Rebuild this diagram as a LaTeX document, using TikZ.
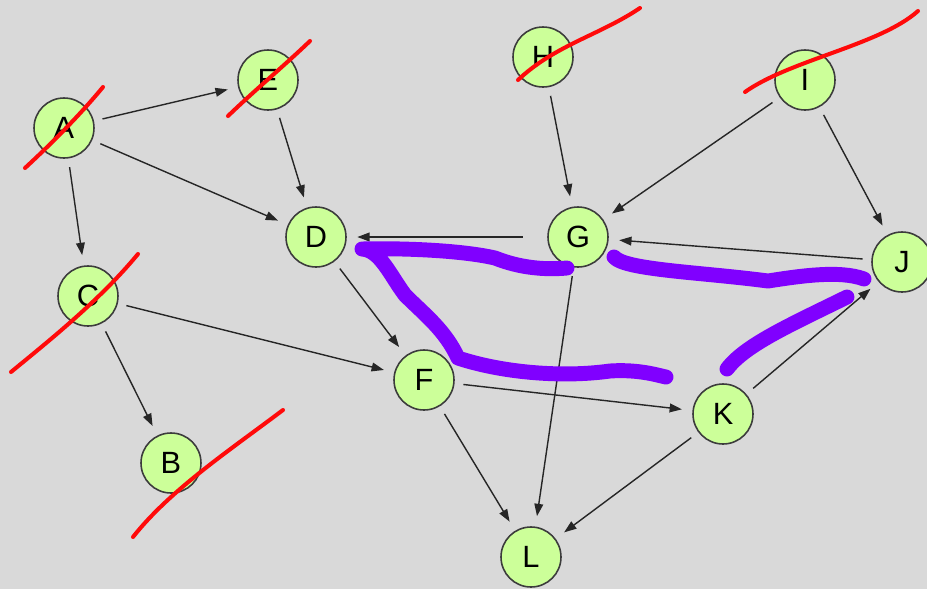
\documentclass[tikz,border=0pt]{standalone}
\usepackage{fontspec}
\setmainfont{Liberation Sans}
\usetikzlibrary{arrows.meta}
\definecolor{bg}{RGB}{217,217,217}
\definecolor{nodefill}{RGB}{204,255,153}
\definecolor{nodeline}{RGB}{60,60,60}
\definecolor{strike}{RGB}{255,10,10}
\definecolor{marker}{RGB}{128,0,255}
\begin{document}
\begin{tikzpicture}[x=0.02cm,y=-0.02cm,
  vertex/.style={circle,draw=nodeline,line width=0.9pt,fill=nodefill,
    minimum size=1.2cm,inner sep=0pt,font=\fontsize{17.5}{20}\selectfont},
  arr/.style={-{Triangle[length=7pt,width=5pt]},line width=0.8pt,black!85,
    shorten <=5pt,shorten >=6pt},
  cross/.style={strike,line width=2.3pt,line cap=round},
  hilite/.style={marker,line width=8.5pt,line cap=round,line join=round}]
\fill[bg] (0,0) rectangle (927,589);
\useasboundingbox (0,0) rectangle (927,589);

% nodes
\node[vertex] (A) at (64,128) {A};
\node[vertex] (E) at (268,80) {E};
\node[vertex] (H) at (543,57) {H};
\node[vertex] (I) at (805,80) {I};
\node[vertex] (D) at (316,237) {D};
\node[vertex] (G) at (578,237) {G};
\node[vertex] (J) at (902,262) {J};
\node[vertex] (C) at (88,296) {C};
\node[vertex] (F) at (424,380) {F};
\node[vertex] (K) at (723,414) {K};
\node[vertex] (B) at (171,463) {B};
\node[vertex] (L) at (531,557) {L};

% directed edges
\draw[arr] (A) -- (E);
\draw[arr] (A) -- (D);
\draw[arr] (A) -- (C);
\draw[arr] (E) -- (D);
\draw[arr] (C) -- (F);
\draw[arr] (C) -- (B);
\draw[arr] (D) -- (F);
\draw[arr,shorten <=14pt] (G) -- (D);
\draw[arr] (H) -- (G);
\draw[arr] (I) -- (G);
\draw[arr] (I) -- (J);
\draw[arr] (J) -- (G);
\draw[arr] (G) -- (L);
\draw[arr] (F) -- (K);
\draw[arr] (F) -- (L);
\draw[arr] (K) -- (L);
\draw[arr] (K) -- (J);

% red strike-outs
\draw[cross] (25,168) .. controls (50,145) and (80,115) .. (103,87);
\draw[cross] (228,116) .. controls (255,90) and (285,65) .. (310,41);
\draw[cross] (518,80) .. controls (555,45) and (600,35) .. (640,8);
\draw[cross] (745,92) .. controls (790,60) and (880,45) .. (918,11);
\draw[cross] (11,372) .. controls (50,340) and (100,300) .. (138,254);
\draw[cross] (133,537) .. controls (170,490) and (230,450) .. (283,410);

% purple highlight strokes
\draw[hilite] (567,268) .. controls (545,270) and (520,268) .. (495,258)
  .. controls (460,250) and (400,248) .. (362,249)
  .. controls (380,250) and (390,275) .. (405,295)
  .. controls (425,315) and (445,330) .. (458,358)
  .. controls (500,372) and (560,378) .. (610,371)
  .. controls (640,369) and (660,376) .. (666,377);
\draw[hilite] (614,257) .. controls (625,270) and (700,272) .. (768,281)
  .. controls (800,276) and (840,270) .. (864,279);
\draw[hilite] (727,369) .. controls (745,345) and (790,325) .. (847,297);
\end{tikzpicture}
\end{document}
